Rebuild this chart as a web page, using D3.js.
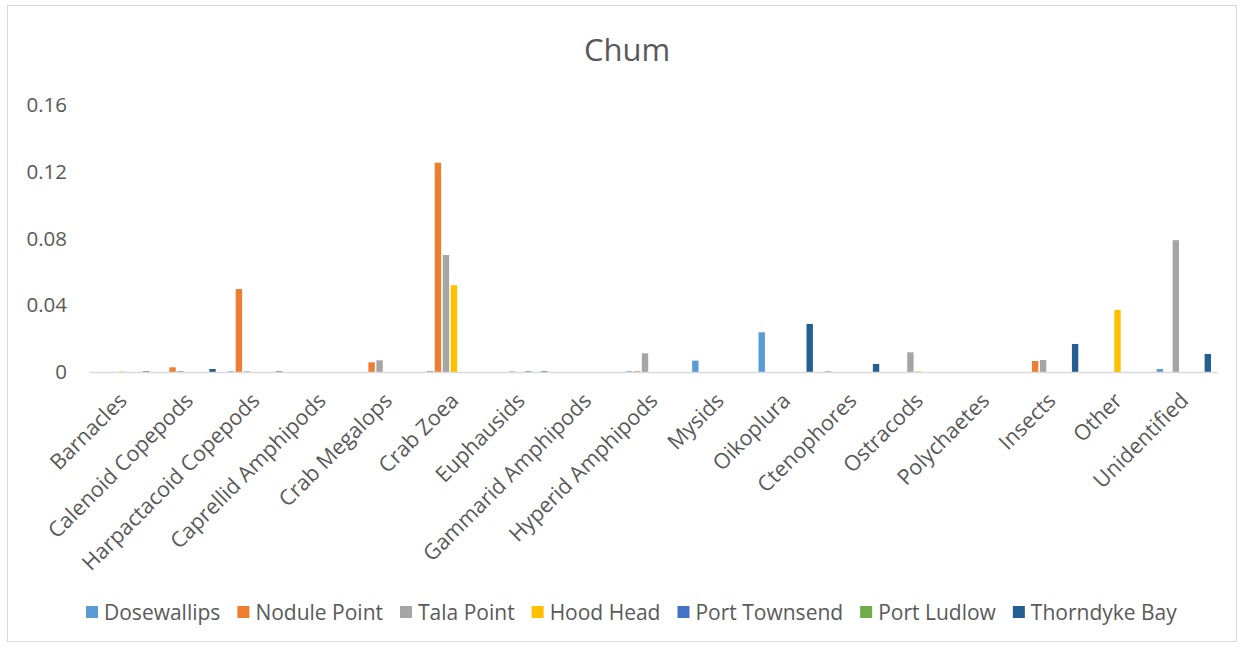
<!DOCTYPE html>
<html><head><meta charset="utf-8">
<script src="https://cdn.jsdelivr.net/npm/d3@7/dist/d3.min.js"></script>
<style>body{margin:0;background:#fff}svg{display:block}text{font-family:"Open Sans",sans-serif;fill:#595959}</style>
</head><body><svg id="c" width="1244" height="649"></svg>
<script>
const categories = ["Barnacles","Calenoid Copepods","Harpactacoid Copepods","Caprellid Amphipods","Crab Megalops","Crab Zoea","Euphausids","Gammarid Amphipods","Hyperid Amphipods","Mysids","Oikoplura","Ctenophores","Ostracods","Polychaetes","Insects","Other","Unidentified"];
const seriesNames = ["Dosewallips","Nodule Point","Tala Point","Hood Head","Port Townsend","Port Ludlow","Thorndyke Bay"];
const seriesColors = ["#5B9BD5","#ED7D31","#A5A5A5","#FFC000","#4472C4","#70AD47","#255E91"];
const dosewallips  = [0,0,0.0004,0,0,0.0005,0,0,0.0004,0.0068,0.0238,0.0004,0,0,0,0,0.0018];
const nodulePoint  = [0,0.0028,0.0497,0,0.0058,0.1254,0,0,0.0004,0,0,0,0,0,0.0066,0,0];
const talaPoint    = [0,0.0006,0.0004,0,0.007,0.0701,0.0004,0,0.0112,0,0,0,0.0118,0,0.0072,0,0.079];
const hoodHead     = [0.0003,0,0,0,0,0.052,0,0,0,0,0,0,0.0003,0,0,0.0372,0];
const portTownsend = [0,0,0,0,0,0,0.0004,0,0,0,0,0,0,0,0,0,0];
const portLudlow   = [0,0,0,0,0,0,0,0,0,0,0,0,0,0,0,0,0];
const thorndykeBay = [0.0004,0.0018,0.0004,0,0,0,0.0004,0,0,0,0.0288,0.0048,0,0,0.0168,0,0.0108];
const yTicks = [0,0.04,0.08,0.12,0.16];
const allSeries = [dosewallips,nodulePoint,talaPoint,hoodHead,portTownsend,portLudlow,thorndykeBay];

const svg = d3.select("#c");
svg.append("rect").attr("x",7.5).attr("y",5.5).attr("width",1229).attr("height",636)
  .attr("fill","none").attr("stroke","#d9d9d9");

const x0 = d3.scaleBand().domain(categories).range([89,1217]).paddingInner(0).paddingOuter(0);
const x1 = d3.scaleBand().domain(seriesNames).range([-28,28]).paddingInner(0.2).paddingOuter(0.1);
const y = d3.scaleLinear().domain([0,0.16]).range([372,105]);

svg.append("text").attr("x",627).attr("y",61).attr("text-anchor","middle")
  .style("font-size","31px").text("Chum");

// y labels
const yAxis = d3.axisLeft(y).tickValues(yTicks).tickSize(0).tickPadding(0)
  .tickFormat(d => d===0 ? "0" : d3.format(".2f")(d));
const ya = svg.append("g").attr("transform","translate(67,0)").call(yAxis);
ya.select(".domain").remove();
ya.selectAll("text").style("font-size","20.5px").style("font-family","'Open Sans',sans-serif").attr("fill","#595959");

// bars
const g = svg.append("g");
seriesNames.forEach((s,i)=>{
  g.selectAll(null).data(categories.map((c,j)=>({c,v:allSeries[i][j]})).filter(d=>d.v>0))
   .enter().append("rect")
   .attr("x",d=>x0(d.c)+x0.bandwidth()/2+x1(s))
   .attr("width",x1.bandwidth())
   .attr("y",d=>y(d.v))
   .attr("height",d=>y(0)-y(d.v))
   .attr("fill",seriesColors[i]);
});

// x axis
const xa = svg.append("g").attr("transform","translate(0,372)")
  .call(d3.axisBottom(x0).tickSize(0).tickPadding(0));
xa.select(".domain").attr("stroke","#d9d9d9").attr("stroke-width",1.5);
xa.selectAll("text").attr("fill","#595959").style("font-size","21.5px")
  .style("font-family","'Open Sans',sans-serif")
  .attr("text-anchor","end").attr("dy","0")
  .attr("transform","translate(6,30) rotate(-45)");

// legend
const lg = svg.append("g");
let lx = 86;
seriesNames.forEach((s,i)=>{
  lg.append("rect").attr("x",lx).attr("y",606).attr("width",12).attr("height",12).attr("fill",seriesColors[i]);
  const t = lg.append("text").attr("x",lx+18).attr("y",619.5).style("font-size","21px").text(s);
  lx += 18 + t.node().getComputedTextLength() + 17;
});
</script></body></html>
